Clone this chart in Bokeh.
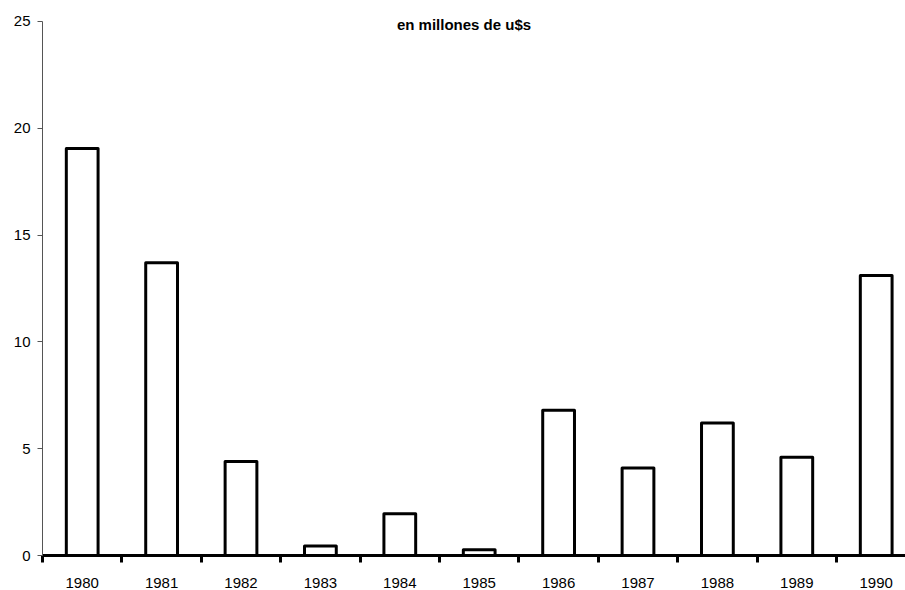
from bokeh.plotting import figure
from bokeh.models import Range1d, FixedTicker, Label
from bokeh.embed import file_html
from bokeh.resources import INLINE

years = ["1980", "1981", "1982", "1983", "1984", "1985", "1986", "1987", "1988", "1989", "1990"]
values = [19.05, 13.7, 4.4, 0.45, 1.95, 0.27, 6.8, 4.1, 6.2, 4.6, 13.1]
y_ticks = [0, 5, 10, 15, 20, 25]
subtitle = "en millones de u$s"

centers = [i + 0.5 for i in range(len(years))]
boundaries = list(range(len(years) + 1))

p = figure(width=905, height=590, output_backend="svg", toolbar_location=None,
           x_range=Range1d(0, 10.869), y_range=Range1d(0, 25.976),
           min_border_left=42, min_border_right=0, min_border_top=0, min_border_bottom=31)
p.outline_line_color = None
p.xgrid.grid_line_color = None
p.ygrid.grid_line_color = None
p.background_fill_color = "white"
p.border_fill_color = "white"

p.vbar(x=centers, top=values, width=0.4, bottom=0, fill_color="white",
       line_color="black", line_width=3, line_join="round")

xa = p.xaxis[0]
xa.ticker = FixedTicker(ticks=centers, minor_ticks=boundaries)
xa.major_label_overrides = {c: y for c, y in zip(centers, years)}
xa.major_tick_line_color = None
xa.major_tick_out = 0
xa.major_tick_in = 0
xa.minor_tick_line_color = "black"
xa.minor_tick_line_width = 3
xa.minor_tick_out = 7
xa.minor_tick_in = 0
xa.axis_line_color = "black"
xa.axis_line_width = 3
xa.major_label_text_font = "Liberation Sans"
xa.major_label_text_font_size = "15px"
xa.major_label_text_color = "black"
xa.major_label_standoff = 15

ya = p.yaxis[0]
ya.ticker = FixedTicker(ticks=y_ticks)
ya.bounds = (0, 25)
ya.minor_tick_line_color = None
ya.major_tick_line_color = "#555555"
ya.major_tick_out = 5
ya.major_tick_in = 0
ya.axis_line_color = "#555555"
ya.axis_line_width = 1
ya.major_label_text_font = "Liberation Sans"
ya.major_label_text_font_size = "15px"
ya.major_label_text_color = "black"
ya.major_label_standoff = 7

p.add_layout(Label(x=5.309, y=24.85, text=subtitle, text_align="center", text_baseline="middle",
                   text_font="Liberation Sans", text_font_style="bold", text_font_size="15px",
                   text_color="black"))

open("out.html", "w").write(file_html(p, INLINE))
